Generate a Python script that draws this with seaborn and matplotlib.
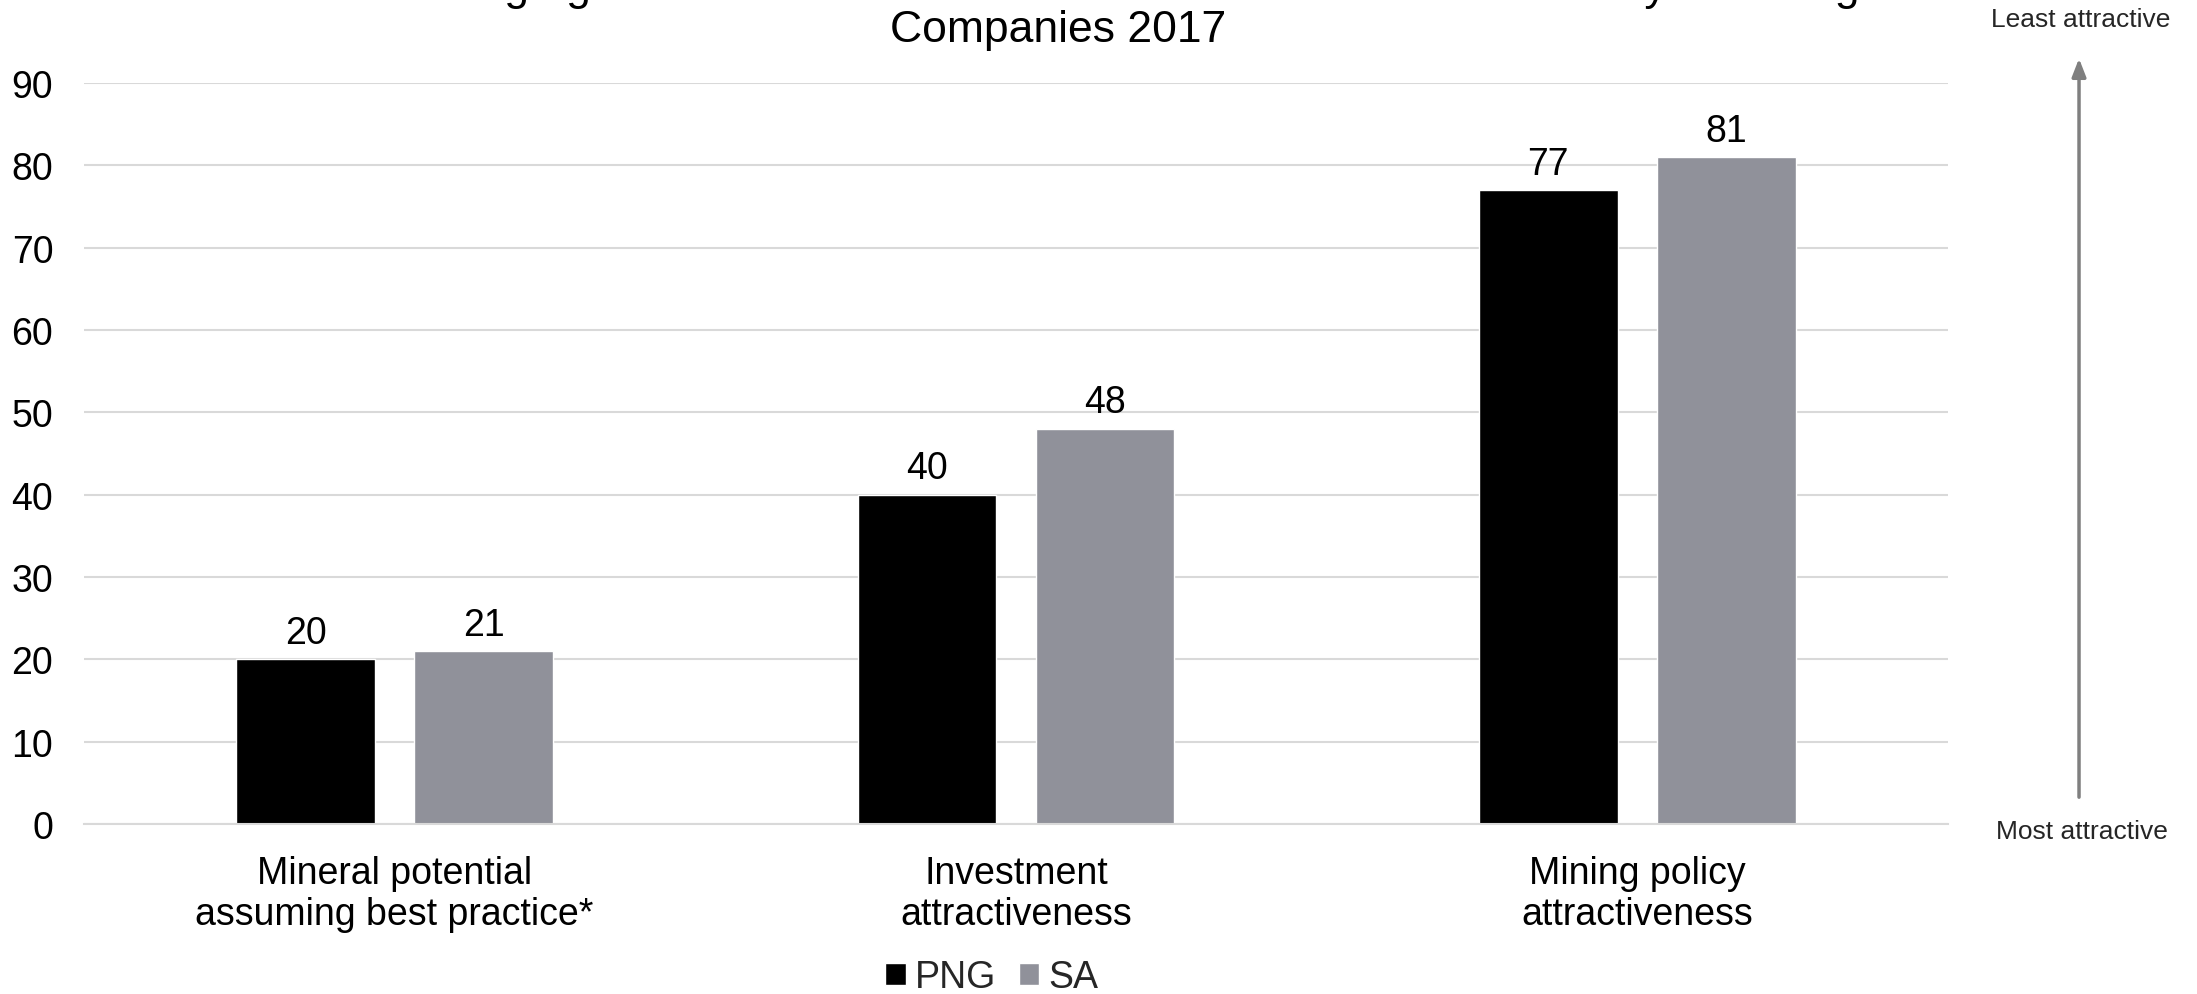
import matplotlib
matplotlib.use("Agg")
import matplotlib.pyplot as plt
import seaborn as sns
import pandas as pd

categories = ["Mineral potential\nassuming best practice*", "Investment\nattractiveness", "Mining policy\nattractiveness"]
png_rank = [20, 40, 77]
sa_rank = [21, 48, 81]
series = ["PNG", "SA"]
colors = {"PNG": "#000000", "SA": "#8e909c"}
title_lines = ["PNG Ranking against South Africa in the Fraser Institute Annual Survey of Mining",
               "Companies 2017"]

df = pd.DataFrame({
    "category": categories * 2,
    "rank": png_rank + sa_rank,
    "country": ["PNG"] * 3 + ["SA"] * 3,
})

sns.set_theme(style="white")
plt.rcParams['font.family'] = ['Liberation Sans', 'DejaVu Sans']

fig = plt.figure(figsize=(21.97, 9.95), dpi=100)
ax = fig.add_axes([0.0382, 0.1709, 0.8485, 0.7447])

sns.barplot(data=df, x="category", y="rank", hue="country", hue_order=series,
            palette=colors, width=0.573, gap=0.22, ax=ax, legend=True)

for c in ax.containers:
    ax.bar_label(c, fontsize=27, padding=6, color="#000000")

ax.set_ylim(0, 90)
ax.set_xlim(-0.5, 2.5)
ax.set_yticks(range(0, 91, 10))
ax.yaxis.grid(True, color="#d9d9d9", linewidth=1.5)
ax.set_axisbelow(True)
for s in ["top", "right", "left"]:
    ax.spines[s].set_visible(False)
ax.spines["bottom"].set_color("#d9d9d9")
ax.spines["bottom"].set_linewidth(1.5)
ax.tick_params(axis="y", length=0, labelsize=27, pad=22, labelcolor="#000000")
ax.tick_params(axis="x", length=0, labelsize=27, pad=22, labelcolor="#000000")
for lab in ax.get_xticklabels():
    lab.set_linespacing(1.2)
ax.set_xlabel("")
ax.set_ylabel("")

sns.move_legend(ax, "center", bbox_to_anchor=(0.4515, 0.017), bbox_transform=fig.transFigure,
                ncol=2, title=None, frameon=False, fontsize=27, handlelength=0.55, handleheight=0.55,
                handletextpad=0.25, columnspacing=0.6, borderpad=0)

# title: the first line sits on the top edge, only its descenders show (as in the source)
fig.text(0.4815, 1.0, title_lines[0], ha="center", va="baseline", fontsize=32, color="#000000")
fig.text(0.4815, 0.969, title_lines[1], ha="center", va="center", fontsize=32, color="#000000")

ax.annotate("", xy=(0.9463, 0.943), xytext=(0.9463, 0.195), xycoords="figure fraction",
            arrowprops=dict(arrowstyle="-|>,head_length=0.9,head_width=0.35", color="#7f7f7f", lw=2.5))
fig.text(0.9472, 0.98, "Least attractive", ha="center", va="center", fontsize=19)
fig.text(0.9477, 0.164, "Most attractive", ha="center", va="center", fontsize=19)

fig.savefig("out.png", dpi=100)
